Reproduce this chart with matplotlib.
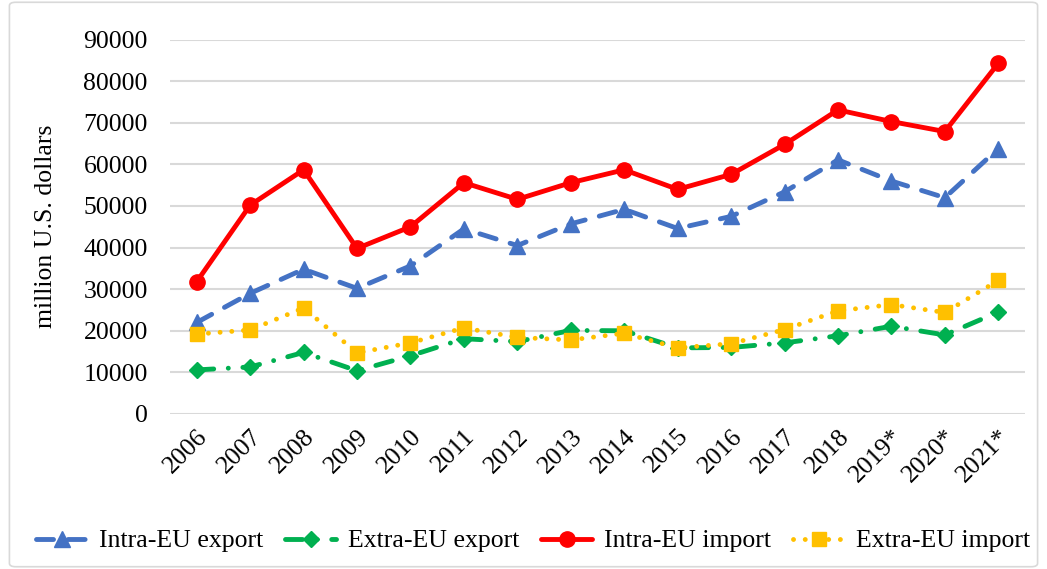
import matplotlib
matplotlib.use("Agg")
import matplotlib.pyplot as plt
from matplotlib.patches import FancyBboxPatch

years = ["2006", "2007", "2008", "2009", "2010", "2011", "2012", "2013",
         "2014", "2015", "2016", "2017", "2018", "2019*", "2020*", "2021*"]
intra_export = [22000, 29000, 34800, 30200, 35600, 44500, 40500, 45700,
                49200, 44600, 47500, 53400, 61100, 56000, 52000, 63800]
extra_export = [10600, 11300, 14800, 10400, 14000, 18100, 17400, 20100,
                20000, 15900, 16000, 17100, 18800, 21100, 19000, 24500]
intra_import = [31800, 50200, 58700, 39800, 45000, 55600, 51600, 55600,
                58700, 54000, 57600, 64800, 73100, 70300, 67900, 84300]
extra_import = [19200, 20200, 25500, 14700, 17100, 20700, 18400, 17800,
                19400, 15900, 16900, 20300, 24800, 26300, 24400, 32100]
yticks = list(range(0, 90001, 10000))

plt.rcParams['font.family'] = ['Liberation Serif', 'DejaVu Serif']

fig = plt.figure(figsize=(10.47, 5.69), dpi=100)
ax = fig.add_axes([170/1047, 1-414/569, (1025-170)/1047, (414-39.6)/569])

x = list(range(len(years)))
lw = 3.5
l1, = ax.plot(x, intra_export, color='#4472C4', lw=lw, dashes=(3.5, 3),
              dash_capstyle='round', marker='^', ms=11, label='Intra-EU export', zorder=3)
l2, = ax.plot(x, extra_export, color='#00B050', lw=lw, dashes=(3.5, 3, 0.01, 3),
              dash_capstyle='round', marker='D', ms=8.5, label='Extra-EU export', zorder=4)
l3, = ax.plot(x, intra_import, color='#FF0000', lw=lw, solid_capstyle='round',
              marker='o', ms=11, label='Intra-EU import', zorder=5)
l4, = ax.plot(x, extra_import, color='#FFC000', lw=lw, dashes=(0.01, 2.4),
              dash_capstyle='round', marker='s', ms=10, label='Extra-EU import', zorder=6)

ax.set_xlim(-0.5, len(years) - 0.5)
ax.set_ylim(0, 90000)
ax.set_yticks(yticks)
ax.set_yticklabels([str(v) for v in yticks], fontsize=18.5)
ax.set_xticks(x)
ax.set_xticklabels(years, fontsize=18.5, rotation=45, ha='right', rotation_mode='anchor')
ax.tick_params(axis='both', length=0)
ax.tick_params(axis='y', pad=16)
ax.tick_params(axis='x', pad=8)
ax.grid(axis='y', color='#D9D9D9', lw=1.5)
ax.set_axisbelow(True)
for s in ax.spines.values():
    s.set_visible(False)
ax.set_ylabel('million U.S. dollars', fontsize=18.5, labelpad=19)

fig.legend(handles=[l1, l2, l3, l4], loc='center', bbox_to_anchor=(0.509, 1-541/569),
           ncol=4, frameon=False, fontsize=18.5, handlelength=2.0, columnspacing=0.85,
           handletextpad=0.45)

border = FancyBboxPatch((0.009, 0.004), 0.982, 0.992, boxstyle='round,pad=0,rounding_size=0.006',
                        transform=fig.transFigure, fill=False, edgecolor='#D9D9D9', lw=1.2)
fig.patches.append(border)

fig.savefig('out.png', dpi=100)
